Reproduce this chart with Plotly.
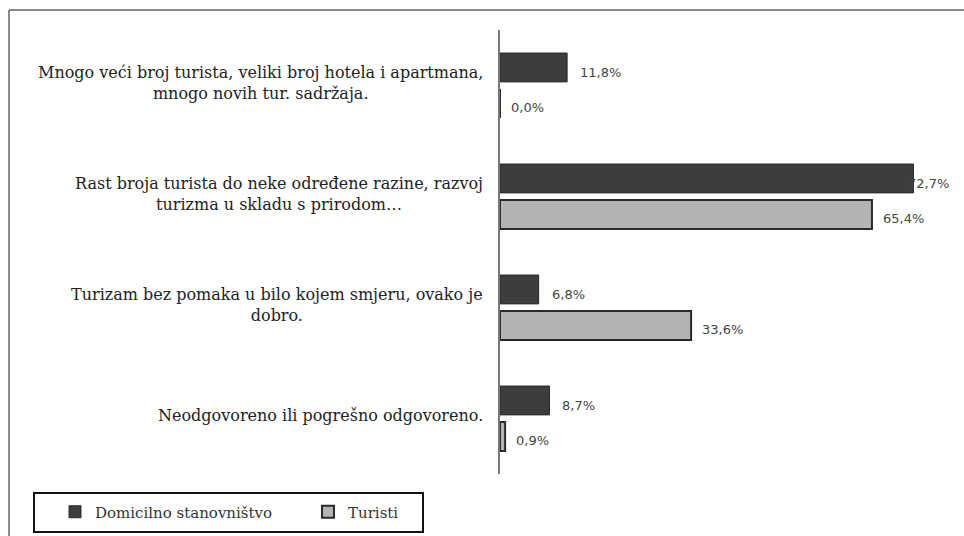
import plotly.graph_objects as go

categories = [
    "Mnogo veći broj turista, veliki broj hotela i apartmana,<br>mnogo novih tur. sadržaja.",
    "Rast broja turista do neke određene razine, razvoj<br>turizma u skladu s prirodom…",
    "Turizam bez pomaka u bilo kojem smjeru, ovako je<br>dobro.",
    "Neodgovoreno ili pogrešno odgovoreno.",
]
cat_ids = ["c1", "c2", "c3", "c4"]
domicilno = [11.8, 72.7, 6.8, 8.7]
turisti = [0.0, 65.4, 33.6, 0.9]
series_names = ["Domicilno stanovništvo", "Turisti"]


def fmt(v):
    return f"{v:.1f}%".replace(".", ",")


W, H = 964, 536
ML, MR, MT, MB = 500, 9, 30, 62
PW = W - ML - MR
PH = H - MT - MB
X_MAX = 80


def px_x(q):
    return (q - ML) / PW


def px_y(p):
    return (H - MB - p) / PH


def label_shift(v, base):
    # labels that would run past the right edge are tucked over the bar end
    return -7 if v > 0.85 * X_MAX else base


fig = go.Figure()
fig.add_trace(go.Bar(
    y=cat_ids, x=domicilno, orientation="h", name=series_names[0],
    marker=dict(color="#3d3d3d", line=dict(color="#2a2a2a", width=1)),
    legend="legend",
))
fig.add_trace(go.Bar(
    y=cat_ids, x=turisti, orientation="h", name=series_names[1],
    marker=dict(color="#b4b4b4", line=dict(color="#2a2a2a", width=2)),
    legend="legend2",
))

annotations = []
for i, v in enumerate(domicilno):
    annotations.append(dict(
        x=v, y=i - 0.16, xref="x", yref="y", text=fmt(v), showarrow=False,
        xanchor="left", xshift=label_shift(v, 11), yshift=-5,
        font=dict(family="DejaVu Sans", size=13, color="#444444"),
    ))
for i, v in enumerate(turisti):
    annotations.append(dict(
        x=v, y=i + 0.16, xref="x", yref="y", text=fmt(v), showarrow=False,
        xanchor="left", xshift=label_shift(v, 9), yshift=-4,
        font=dict(family="DejaVu Sans", size=13, color="#444444"),
    ))
for i, c in enumerate(categories):
    annotations.append(dict(
        x=0, y=i, xref="paper", yref="y", text=c, showarrow=False,
        xanchor="right", align="center", xshift=-15, yshift=3,
        font=dict(family="DejaVu Serif", size=16, color="#222222"),
    ))

leg_common = dict(
    orientation="h", xref="container", yref="container",
    y=1 - 512 / H, xanchor="left", yanchor="middle",
    borderwidth=0, bgcolor="rgba(0,0,0,0)",
    font=dict(family="DejaVu Serif", size=15, color="#333333"),
    itemwidth=30,
)

fig.update_layout(
    width=W, height=H,
    margin=dict(l=ML, r=MR, t=MT, b=MB),
    paper_bgcolor="white", plot_bgcolor="white",
    barmode="group", bargap=0.35, bargroupgap=0.2,
    xaxis=dict(range=[0, X_MAX], showgrid=False, zeroline=False,
               showticklabels=False, showline=False, fixedrange=True),
    yaxis=dict(categoryorder="array", categoryarray=cat_ids,
               range=[3.5, -0.5], showticklabels=False,
               showgrid=False, zeroline=False,
               showline=True, linecolor="#777777", linewidth=2),
    showlegend=True,
    legend=dict(x=55 / W, **leg_common),
    legend2=dict(x=308 / W, **leg_common),
    annotations=annotations,
    shapes=[
        dict(type="line", xref="paper", yref="paper",
             x0=px_x(9), x1=px_x(W), y0=px_y(10), y1=px_y(10),
             line=dict(color="#8a8a8a", width=2)),
        dict(type="line", xref="paper", yref="paper",
             x0=px_x(9), x1=px_x(9), y0=px_y(10), y1=px_y(H),
             line=dict(color="#8a8a8a", width=2)),
        dict(type="rect", xref="paper", yref="paper",
             x0=px_x(34), x1=px_x(423), y0=px_y(493), y1=px_y(532),
             line=dict(color="#111111", width=2)),
    ],
)

fig.write_html("out.html")
